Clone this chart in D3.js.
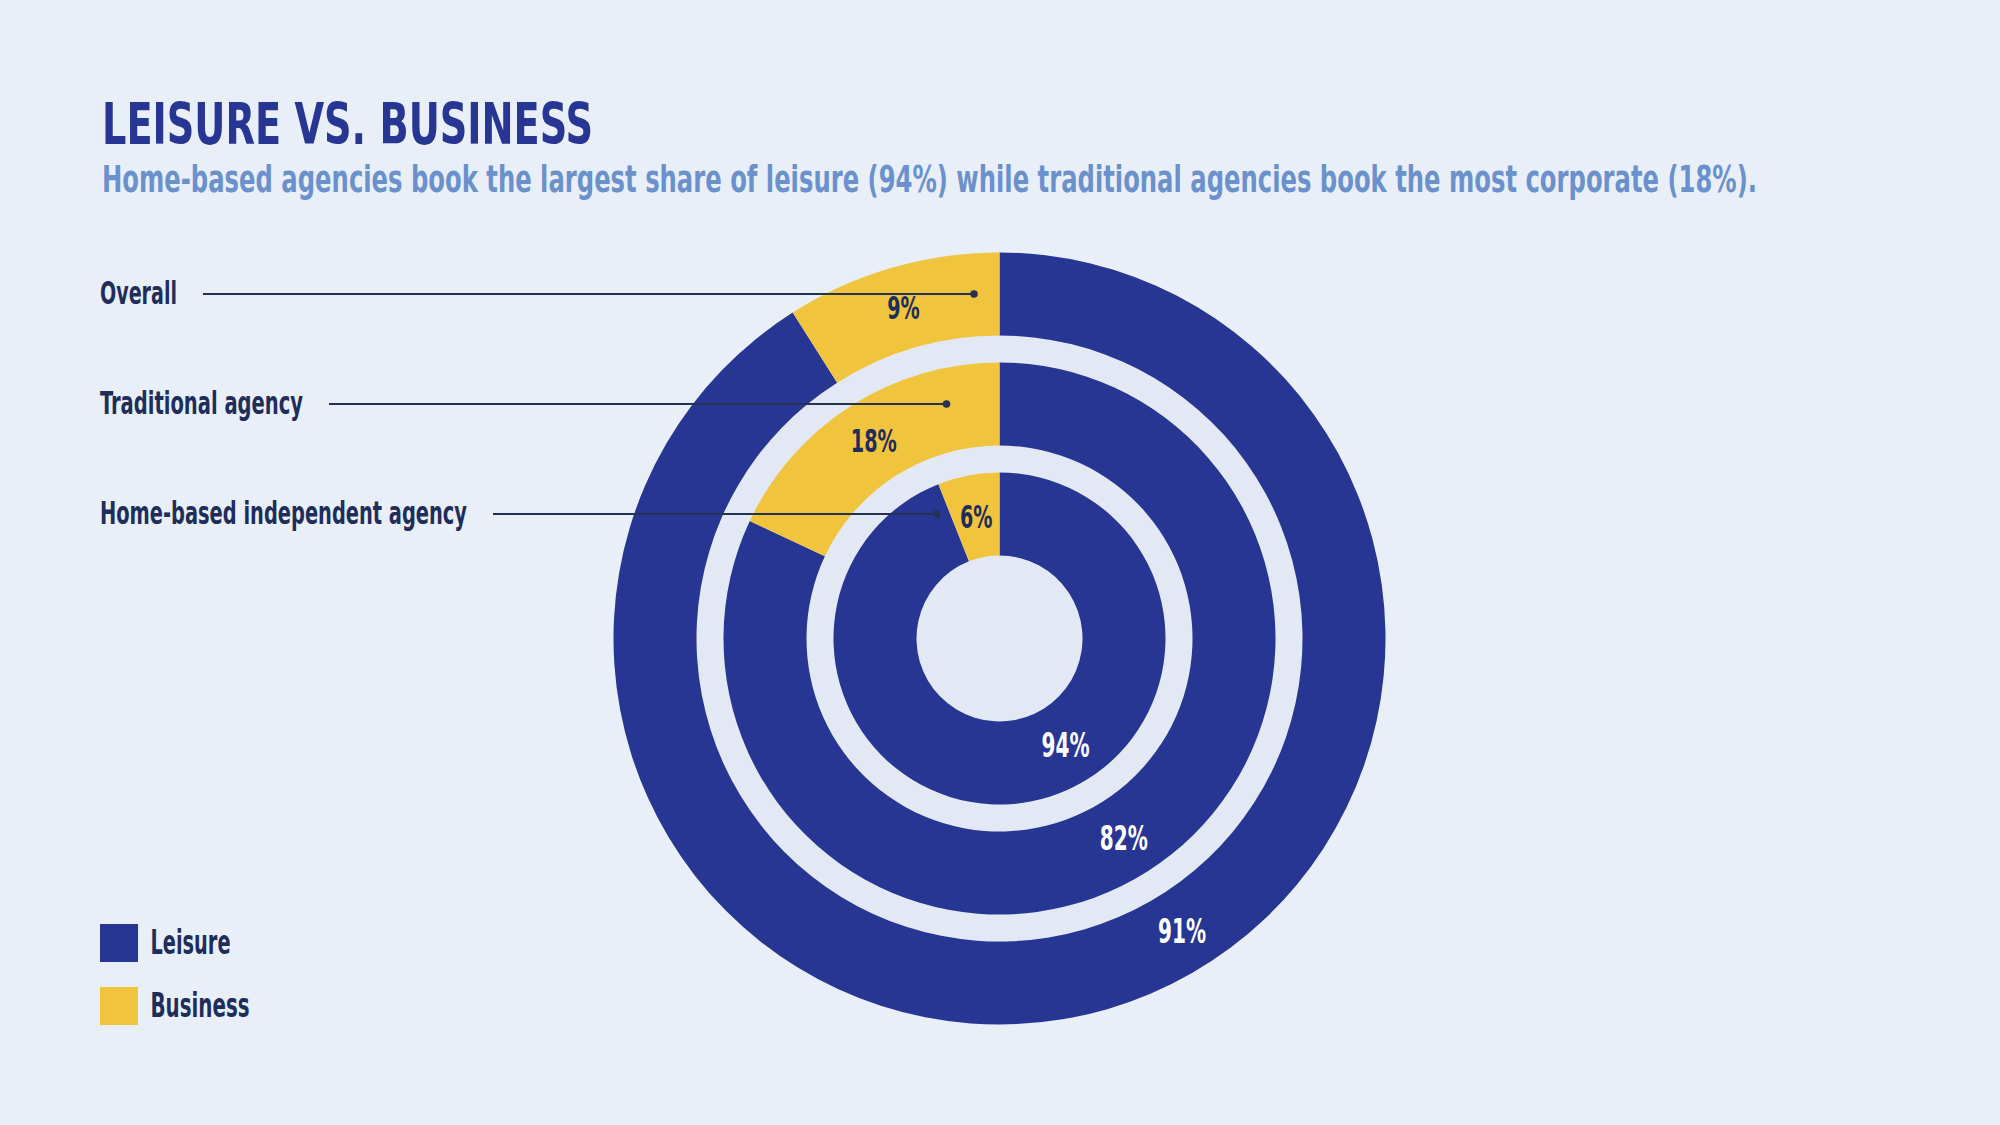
<!DOCTYPE html>
<html>
<head>
<meta charset="utf-8">
<script src="https://cdn.jsdelivr.net/npm/d3@7"></script>
<style>
  html, body { margin: 0; padding: 0; background: #e8eff9; }
  svg { display: block; }
  text { font-family: "Liberation Sans Narrow", "DejaVu Sans Condensed", "Liberation Sans", sans-serif; font-weight: bold; }
</style>
</head>
<body>
<svg id="chart" width="2000" height="1125"></svg>
<script>
const categories = ["Overall", "Traditional agency", "Home-based independent agency"];
const leisure = [91, 82, 94];
const business = [9, 18, 6];
const seriesNames = ["Leisure", "Business"];

const title = "LEISURE VS. BUSINESS";
const subtitle = "Home-based agencies book the largest share of leisure (94%) while traditional agencies book the most corporate (18%).";

const colors = {Leisure: "#283693", Business: "#f1c43e"};
const ink = "#1f2d5b";

const svg = d3.select("#chart");
const cx = 999.5, cy = 638.5;

// fit text to a measured width (the reference uses a condensed face)
function fit(sel, w) {
  sel.attr("textLength", w).attr("lengthAdjust", "spacingAndGlyphs");
}

svg.append("text").attr("x", 102).attr("y", 143.5)
  .attr("font-size", 57).attr("fill", "#283693").text(title).call(fit, 491);

svg.append("text").attr("x", 102).attr("y", 191.5)
  .attr("font-size", 38).attr("fill", "#6b91cd").text(subtitle).call(fit, 1655);

const g = svg.append("g").attr("transform", `translate(${cx},${cy})`);

// radius bands, outer ring first
const rScale = d3.scaleBand().domain(categories).range([386, 83]).paddingInner(27 / 110).paddingOuter(0);

g.append("circle").attr("r", 386).attr("fill", "#e2e8f4");

const pie = d3.pie().sort(null).value(d => d.value);
const labelAngle = 148 * Math.PI / 180;

categories.forEach((cat, i) => {
  const inner = rScale(cat), outer = inner + rScale.bandwidth();
  const arc = d3.arc().innerRadius(inner).outerRadius(outer);
  const slices = pie([
    {key: "Leisure", value: leisure[i]},
    {key: "Business", value: business[i]}
  ]);
  const ring = g.append("g").attr("class", "ring");
  ring.selectAll("path").data(slices).join("path")
    .attr("d", arc)
    .attr("fill", d => colors[d.data.key]);

  const mid = (inner + outer) / 2;
  // business label sits on the slice centroid
  const c = arc.centroid(slices[1]);
  ring.append("text").attr("x", c[0]).attr("y", c[1] + 11.5)
    .attr("text-anchor", "middle").attr("font-size", 32).attr("fill", ink)
    .text(business[i] + "%").call(fit, business[i] < 10 ? 32.5 : 46);
  // leisure label on the lower right
  ring.append("text")
    .attr("x", mid * Math.sin(labelAngle)).attr("y", -mid * Math.cos(labelAngle) + 12.5)
    .attr("text-anchor", "middle").attr("font-size", 34).attr("fill", "#ffffff")
    .text(leisure[i] + "%").call(fit, 48);
});

// row labels with leader lines
const labelWidths = [77, 203, 367];
const dotOffsets = [-25.5, -53, -63];
categories.forEach((cat, i) => {
  const y = cy - (rScale(cat) + rScale.bandwidth() / 2);
  svg.append("text").attr("x", 100).attr("y", y + 9.5)
    .attr("font-size", 32).attr("fill", ink).text(cat).call(fit, labelWidths[i]);
  svg.append("line")
    .attr("x1", 100 + labelWidths[i] + 26).attr("x2", cx + dotOffsets[i])
    .attr("y1", y).attr("y2", y)
    .attr("stroke", "#243253").attr("stroke-width", 2);
  svg.append("circle").attr("cx", cx + dotOffsets[i]).attr("cy", y).attr("r", 3.8).attr("fill", "#243253");
});

// legend
const legend = svg.append("g").attr("transform", "translate(100,924)");
const legendWidths = [80, 99];
seriesNames.forEach((name, i) => {
  const row = legend.append("g").attr("transform", `translate(0,${i * 63})`);
  row.append("rect").attr("width", 38).attr("height", 38).attr("fill", colors[name]);
  row.append("text").attr("x", 50.5).attr("y", 30).attr("font-size", 34)
    .attr("fill", ink).text(name).call(fit, legendWidths[i]);
});
</script>
</body>
</html>
